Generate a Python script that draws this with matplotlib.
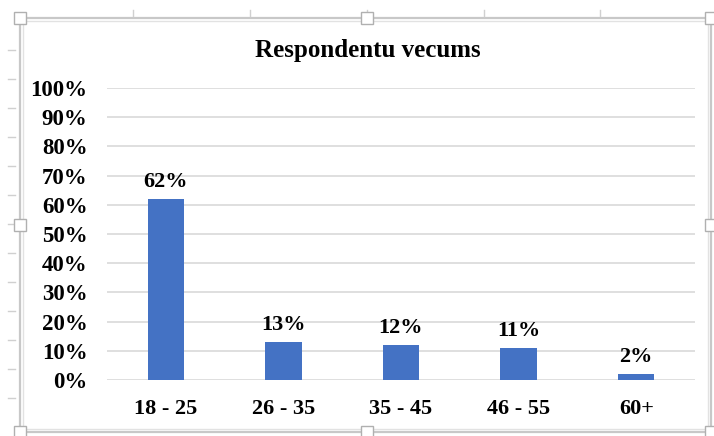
import matplotlib
matplotlib.use("Agg")
import matplotlib.pyplot as plt
from matplotlib.patches import Rectangle
from matplotlib.lines import Line2D

categories = ["18 - 25", "26 - 35", "35 - 45", "46 - 55", "60+"]
values = [62, 13, 12, 11, 2]
yticks = [0, 10, 20, 30, 40, 50, 60, 70, 80, 90, 100]
title = "Respondentu vecums"

W, H = 714, 436
fig = plt.figure(figsize=(W/100, H/100), dpi=100)
plt.rcParams['font.family'] = ['Liberation Serif', 'DejaVu Serif']

def fx(x): return x / W
def fy(y): return 1 - y / H

frame_l, frame_r, frame_t, frame_b = 20, 711, 18, 432
fig.patches.append(Rectangle((fx(frame_l), fy(frame_b)), fx(frame_r) - fx(frame_l),
                             fy(frame_t) - fy(frame_b), transform=fig.transFigure,
                             fill=False, edgecolor="#c8c8c8", lw=1.6))
fig.patches.append(Rectangle((fx(frame_l+3), fy(frame_b-3)), fx(frame_r-3) - fx(frame_l+3),
                             fy(frame_t+3) - fy(frame_b-3), transform=fig.transFigure,
                             fill=False, edgecolor="#e2e2e2", lw=1.0))
for x in [133, 250, 367, 484, 600]:
    fig.lines.append(Line2D([fx(x), fx(x)], [fy(10), fy(16)], transform=fig.transFigure,
                            color="#d0d0d0", lw=1))
for y in [50, 79, 108, 137, 166, 195, 224, 253, 282, 311, 340, 369, 398]:
    fig.lines.append(Line2D([fx(8), fx(15)], [fy(y), fy(y)], transform=fig.transFigure,
                            color="#d0d0d0", lw=1))
hs = 12
for (hx, hy) in [(frame_l, frame_t), (367, frame_t), (frame_r, frame_t),
                 (frame_l, 225), (frame_r, 225),
                 (frame_l, frame_b), (367, frame_b), (frame_r, frame_b)]:
    fig.patches.append(Rectangle((fx(hx - hs/2), fy(hy + hs/2)), hs/W, hs/H,
                                 transform=fig.transFigure, facecolor="white",
                                 edgecolor="#b0b0b0", lw=1, zorder=5))

pl, pr, pt, pb = 107, 695, 88, 380
ax = fig.add_axes([fx(pl), fy(pb), fx(pr) - fx(pl), fy(pt) - fy(pb)])
x = list(range(len(categories)))
ax.bar(x, values, width=0.31, color="#4472C4", zorder=3)
ax.set_xlim(-0.5, len(categories) - 0.5)
ax.set_ylim(0, 100)
ax.set_yticks(yticks)
ax.set_yticklabels([f"{v}%" for v in yticks], fontsize=16.5, fontweight="bold")
ax.set_xticks(x)
ax.set_xticklabels(categories, fontsize=16, fontweight="bold")
ax.tick_params(axis="both", length=0)
ax.tick_params(axis="y", pad=14)
ax.tick_params(axis="x", pad=14)
for s in ax.spines.values():
    s.set_visible(False)
ax.grid(axis="y", color="#d9d9d9", lw=1.2, zorder=0)
ax.set_axisbelow(True)
for xi, v in zip(x, values):
    ax.annotate(f"{v}%", (xi, v), xytext=(0, 5), textcoords="offset points",
                ha="center", va="bottom", fontsize=16, fontweight="bold")
fig.text(fx(367.5), fy(51), title, ha="center", va="center", fontsize=18, fontweight="bold")

fig.savefig("out.png", dpi=100)
